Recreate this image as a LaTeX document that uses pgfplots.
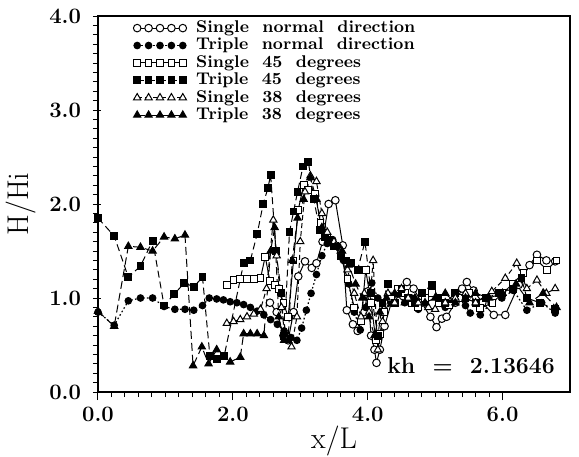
\documentclass[border=0pt]{standalone}
\usepackage{pgfplots}
\pgfplotsset{compat=1.18}
\begin{document}
\begin{tikzpicture}
\begin{axis}[
  at={(0,0)}, anchor=south west,
  width=236pt, height=188pt, scale only axis,
  xmin=0, xmax=7, ymin=0, ymax=4,
  xtick={0,2,4,6}, xticklabels={0.0,2.0,4.0,6.0},
  ytick={0,1,2,3,4}, yticklabels={0.0,1.0,2.0,3.0,4.0},
  minor x tick num=9, minor y tick num=9,
  tick align=outside, xtick pos=bottom, ytick pos=left,
  major tick length=4pt, minor tick length=2.5pt,
  every major y tick/.append style={xshift=1.5pt},
  axis line style={line width=0.9pt},
  every tick/.style={black, line width=0.5pt},
  tick label style={font=\fontsize{11}{13}\selectfont\bfseries},
  yticklabel style={xshift=-1pt},
  xlabel={x/L}, ylabel={H/Hi},
  label style={font=\fontsize{15}{18}\selectfont},
  xlabel style={at={(axis description cs:0.5,0)}, anchor=base, yshift=-28pt},
  legend cell align=left,
  legend style={at={(0,1)}, anchor=north west, xshift=14.5pt, yshift=0.5pt,
    draw=none, fill=none, font=\fontsize{8.5}{10}\selectfont\bfseries,
    row sep=0pt, column sep=0pt, nodes={text height=5.8pt, text depth=1.5pt, inner sep=0.7pt}},
  legend image code/.code={\draw[#1] plot coordinates {(0pt,0pt)(5.7pt,0pt)(11.4pt,0pt)(17.1pt,0pt)(22.8pt,0pt)};
    \path (28.5pt,0pt);},
]
% Single normal direction
\addplot[black, line width=0.5pt, mark=*, mark size=1.9pt, mark options={solid, fill=white, line width=0.5pt}] coordinates {
(2.55,0.95)(2.65,0.85)(2.75,0.60)(2.82,0.55)(2.90,0.85)(2.97,1.23)(3.07,1.39)(3.17,1.32)(3.24,1.37)(3.33,1.60)(3.42,2.00)(3.52,2.04)(3.63,1.56)(3.69,0.87)(3.78,0.72)(3.85,0.65)(3.95,0.85)(4.00,1.07)(4.05,0.60)(4.10,0.45)(4.13,0.31)(4.18,0.45)(4.25,0.70)(4.35,0.95)(4.45,1.05)(4.58,1.17)(4.68,1.10)(4.80,0.95)(4.93,0.80)(5.02,0.69)(5.10,0.78)(5.17,0.80)(5.30,0.95)(5.40,1.10)(5.47,1.17)(5.57,1.08)(5.70,0.95)(5.87,0.82)(6.04,0.82)(6.24,1.14)(6.40,1.35)(6.51,1.46)(6.65,1.40)(6.78,1.39)};
\addlegendentry{Single\ \ normal\ \ direction}
% Triple normal direction
\addplot[black, line width=0.6pt, dash pattern=on 0.8pt off 1.2pt, mark=*, mark size=1.6pt, mark options={solid}] coordinates {
(0.00,0.85)(0.24,0.71)(0.45,0.97)(0.63,1.00)(0.81,1.00)(0.98,0.91)(1.14,0.88)(1.29,0.88)(1.42,0.87)(1.55,0.92)(1.65,1.00)(1.76,0.99)(1.86,0.98)(1.96,0.96)(2.06,0.95)(2.16,0.93)(2.26,0.90)(2.36,0.86)(2.46,0.82)(2.56,0.77)(2.66,0.72)(2.76,0.65)(2.86,0.58)(2.95,0.55)(3.02,0.68)(3.09,0.87)(3.16,1.05)(3.24,1.25)(3.32,1.45)(3.40,1.58)(3.48,1.62)(3.56,1.55)(3.64,1.40)(3.72,1.15)(3.80,0.85)(3.89,0.66)(3.97,0.90)(4.06,1.16)(4.15,1.00)(4.25,0.85)(4.35,0.95)(4.45,1.05)(4.55,0.95)(4.65,1.00)(4.75,0.88)(4.85,0.95)(4.95,1.05)(5.05,0.98)(5.15,0.90)(5.25,0.95)(5.35,1.00)(5.45,0.92)(5.52,0.84)(5.67,0.82)(5.83,0.95)(5.99,1.00)(6.16,1.08)(6.36,0.87)(6.58,0.95)(6.78,0.84)};
\addlegendentry{Triple\ \ normal\ \ direction}
% Single 45 degrees
\addplot[black, line width=0.5pt, mark=square*, mark size=1.7pt, mark options={solid, fill=white}] coordinates {
(1.91,1.14)(2.01,1.19)(2.11,1.20)(2.21,1.20)(2.31,1.20)(2.41,1.21)(2.48,1.44)(2.55,1.18)(2.62,1.14)(2.68,1.10)(2.75,0.95)(2.82,0.80)(2.90,1.40)(2.97,1.94)(3.05,2.20)(3.12,2.15)(3.22,2.11)(3.30,1.80)(3.40,1.65)(3.50,1.55)(3.60,1.45)(3.70,1.20)(3.80,0.90)(3.90,0.75)(3.97,1.30)(4.05,0.95)(4.12,0.55)(4.18,0.62)(4.25,0.85)(4.35,1.00)(4.45,1.10)(4.55,1.05)(4.65,0.95)(4.75,0.90)(4.85,1.00)(4.95,1.05)(5.05,0.95)(5.20,0.92)(5.35,1.00)(5.50,1.05)(5.67,0.89)(5.85,0.95)(6.00,1.05)(6.15,1.15)(6.31,1.27)(6.51,1.40)(6.66,1.30)(6.80,1.40)};
\addlegendentry{Single\ \ 45\ \ degrees}
% Triple 45 degrees
\addplot[black, line width=0.5pt, dash pattern=on 3.5pt off 2pt, mark=square*, mark size=1.7pt, mark options={solid}] coordinates {
(0.00,1.85)(0.24,1.66)(0.45,1.22)(0.63,1.34)(0.81,1.61)(0.98,0.92)(1.13,1.04)(1.28,1.16)(1.42,1.12)(1.55,1.22)(1.66,0.38)(1.77,0.35)(1.87,0.38)(2.16,1.37)(2.26,1.40)(2.36,1.68)(2.45,2.00)(2.52,2.17)(2.56,2.31)(2.64,1.50)(2.72,1.05)(2.76,0.60)(2.84,1.70)(2.90,1.92)(2.96,2.13)(3.04,2.40)(3.12,2.45)(3.20,2.05)(3.29,1.72)(3.37,1.65)(3.44,1.62)(3.52,1.55)(3.60,1.45)(3.68,1.40)(3.75,1.37)(3.85,1.30)(3.96,1.60)(4.05,1.05)(4.15,0.60)(4.22,0.95)(4.30,1.15)(4.40,0.95)(4.50,1.10)(4.60,1.00)(4.70,0.95)(4.80,1.05)(4.95,1.14)(5.05,1.00)(5.15,0.95)(5.30,1.05)(5.45,1.00)(5.60,0.95)(5.75,1.00)(5.95,1.05)(6.16,1.10)(6.28,1.21)(6.36,1.00)(6.55,0.95)(6.78,0.88)};
\addlegendentry{Triple\ \ 45\ \ degrees}
% Single 38 degrees
\addplot[black, line width=0.5pt, dash pattern=on 2.5pt off 1.5pt, mark=triangle*, mark size=2.1pt, mark options={solid, fill=white}] coordinates {
(1.91,0.73)(2.01,0.75)(2.11,0.77)(2.21,0.80)(2.31,0.83)(2.41,0.88)(2.50,1.10)(2.60,1.83)(2.65,1.45)(2.72,0.90)(2.80,0.55)(2.87,0.48)(2.95,0.80)(3.00,1.60)(3.07,2.13)(3.15,2.30)(3.24,2.24)(3.32,1.90)(3.40,1.70)(3.50,1.60)(3.60,1.50)(3.70,1.30)(3.80,1.05)(3.90,0.80)(3.95,1.05)(4.02,0.85)(4.08,1.40)(4.15,0.45)(4.22,0.75)(4.30,1.05)(4.40,0.95)(4.50,1.10)(4.60,1.00)(4.75,0.95)(4.90,0.90)(5.00,0.88)(5.15,0.95)(5.30,1.00)(5.45,1.05)(5.60,0.95)(5.84,1.07)(6.04,1.21)(6.21,1.37)(6.36,1.10)(6.51,1.19)(6.65,1.05)(6.78,1.10)};
\addlegendentry{Single\ \ 38\ \ degrees}
% Triple 38 degrees
\addplot[black, line width=0.5pt, dash pattern=on 4pt off 2pt, mark=triangle*, mark size=2.1pt, mark options={solid}] coordinates {
(0.00,0.86)(0.24,0.70)(0.45,1.55)(0.63,1.54)(0.81,1.50)(0.98,1.65)(1.14,1.63)(1.29,1.67)(1.41,0.28)(1.54,0.48)(1.64,0.30)(1.76,0.45)(1.96,0.32)(2.11,0.37)(2.16,0.62)(2.26,0.62)(2.36,0.62)(2.46,0.60)(2.56,1.50)(2.62,1.75)(2.68,0.80)(2.76,0.55)(2.82,0.55)(2.88,1.40)(2.96,1.85)(3.05,2.05)(3.15,2.28)(3.24,2.05)(3.32,1.75)(3.42,1.60)(3.52,1.55)(3.62,1.50)(3.72,1.35)(3.82,1.15)(3.92,1.00)(4.02,0.80)(4.10,0.60)(4.18,0.85)(4.28,1.00)(4.40,1.05)(4.55,0.95)(4.70,1.00)(4.85,0.95)(5.00,1.00)(5.15,1.05)(5.30,0.95)(5.45,1.00)(5.60,1.05)(5.80,1.00)(6.00,1.05)(6.20,1.15)(6.40,0.95)(6.60,1.05)(6.80,0.90)};
\addlegendentry{Triple\ \ 38\ \ degrees}
\node[anchor=base east, font=\fontsize{11.5}{14}\selectfont\bfseries] at (axis cs:6.88,0.2) {kh\ \ =\ \ 2.13646};
\end{axis}
\pgfresetboundingbox
\path[use as bounding box] (-49pt,-32pt) rectangle (240.5pt,196pt);
\end{tikzpicture}
\end{document}
